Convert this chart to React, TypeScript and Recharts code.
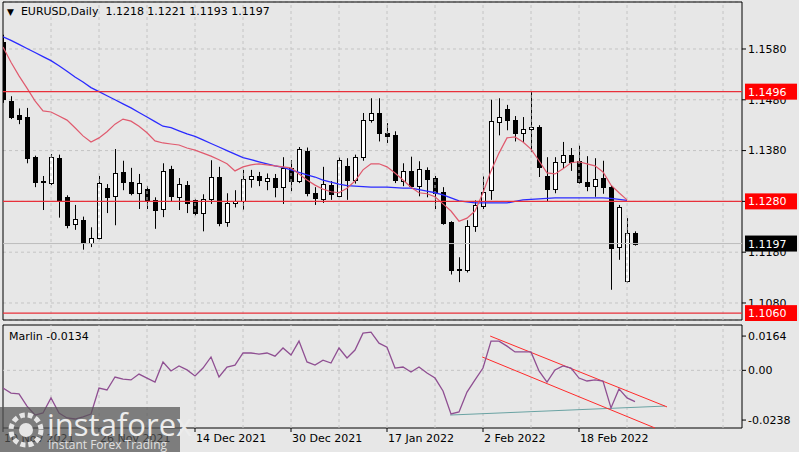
import React from 'react';
import { ComposedChart, Bar, Line, XAxis, YAxis, CartesianGrid, ReferenceLine, ReferenceArea } from 'recharts';

// ---- data ----
const open = [1.1594,1.1478,1.1450,1.1446,1.1367,1.1318,1.1316,1.1366,1.1288,1.1235,1.1244,1.1198,1.1207,1.1307,1.1290,1.1338,1.1319,1.1296,1.1305,1.1283,1.1265,1.1344,1.1289,1.1313,1.1282,1.1257,1.1284,1.1328,1.1239,1.1277,1.1280,1.1325,1.1330,1.1320,1.1326,1.1308,1.1346,1.1320,1.1379,1.1296,1.1285,1.1313,1.1290,1.1350,1.1322,1.1367,1.1440,1.1454,1.1415,1.1411,1.1321,1.1340,1.1310,1.1342,1.1326,1.1298,1.1239,1.1144,1.1145,1.1231,1.1271,1.1302,1.1436,1.1462,1.1440,1.1414,1.1423,1.1426,1.1330,1.1304,1.1357,1.1372,1.1359,1.1318,1.1310,1.1326,1.1309,1.1190,1.1123,1.1218];
const high = [1.1608,1.1487,1.1463,1.1464,1.1370,1.1330,1.1373,1.1372,1.1292,1.1273,1.1250,1.1229,1.1330,1.1314,1.1383,1.1360,1.1346,1.1334,1.1310,1.1288,1.1355,1.1350,1.1326,1.1320,1.1285,1.1294,1.1361,1.1348,1.1296,1.1302,1.1342,1.1342,1.1338,1.1335,1.1334,1.1367,1.1361,1.1387,1.1386,1.1308,1.1348,1.1320,1.1367,1.1365,1.1372,1.1454,1.1483,1.1483,1.1434,1.1418,1.1355,1.1368,1.1359,1.1347,1.1330,1.1308,1.1241,1.1170,1.1243,1.1282,1.1329,1.1480,1.1483,1.1470,1.1448,1.1446,1.1495,1.1430,1.1367,1.1367,1.1397,1.1385,1.1390,1.1369,1.1365,1.1360,1.1312,1.1273,1.1247,1.1221];
const low = [1.1474,1.1442,1.1432,1.1355,1.1308,1.1263,1.1312,1.1248,1.1227,1.1224,1.1185,1.1190,1.1205,1.1257,1.1233,1.1302,1.1292,1.1265,1.1265,1.1226,1.1249,1.1279,1.1263,1.1257,1.1252,1.1221,1.1275,1.1231,1.1230,1.1268,1.1263,1.1307,1.1310,1.1302,1.1288,1.1275,1.1300,1.1316,1.1290,1.1273,1.1277,1.1283,1.1288,1.1283,1.1315,1.1360,1.1435,1.1398,1.1395,1.1316,1.1310,1.1306,1.1290,1.1288,1.1265,1.1234,1.1136,1.1121,1.1140,1.1220,1.1265,1.1283,1.1410,1.1420,1.1398,1.1397,1.1377,1.1328,1.1279,1.1296,1.1345,1.1340,1.1315,1.1300,1.1289,1.1295,1.1106,1.1165,1.1120,1.1193];
const close = [1.1481,1.1446,1.1443,1.1366,1.1318,1.1320,1.1367,1.1281,1.1234,1.1245,1.1198,1.1208,1.1316,1.1289,1.1336,1.1319,1.1297,1.1316,1.1283,1.1263,1.1340,1.1290,1.1314,1.1277,1.1257,1.1285,1.1328,1.1238,1.1277,1.1281,1.1324,1.1330,1.1322,1.1327,1.1308,1.1346,1.1320,1.1383,1.1296,1.1287,1.1314,1.1295,1.1361,1.1322,1.1367,1.1440,1.1454,1.1414,1.1408,1.1322,1.1340,1.1310,1.1344,1.1324,1.1296,1.1238,1.1144,1.1147,1.1232,1.1273,1.1298,1.1438,1.1446,1.1440,1.1415,1.1422,1.1426,1.1348,1.1305,1.1357,1.1371,1.1357,1.1318,1.1310,1.1325,1.1308,1.1188,1.1269,1.1218,1.1197];
const fastMA = [1.1584,1.1554,1.1527,1.1503,1.1478,1.1458,1.1456,1.1448,1.1440,1.1425,1.1409,1.1397,1.1405,1.1417,1.1432,1.1442,1.1438,1.1428,1.1415,1.1399,1.1395,1.1393,1.1391,1.1385,1.1381,1.1375,1.1369,1.1362,1.1354,1.1340,1.1348,1.1352,1.1354,1.1352,1.1350,1.1348,1.1346,1.1334,1.1322,1.1312,1.1304,1.1299,1.1297,1.1306,1.1320,1.1342,1.1354,1.1354,1.1348,1.1336,1.1322,1.1308,1.1297,1.1295,1.1289,1.1275,1.1261,1.1241,1.1247,1.1261,1.1297,1.1340,1.1375,1.1405,1.1407,1.1397,1.1383,1.1360,1.1336,1.1334,1.1344,1.1356,1.1358,1.1354,1.1350,1.1338,1.1312,1.1297,1.1283,null];
const slowMA = [1.1604,1.1597,1.1589,1.1581,1.1573,1.1565,1.1557,1.1547,1.1536,1.1525,1.1515,1.1504,1.1496,1.1488,1.1480,1.1472,1.1464,1.1455,1.1446,1.1437,1.1428,1.1425,1.1419,1.1413,1.1408,1.1401,1.1394,1.1387,1.1380,1.1373,1.1366,1.1362,1.1358,1.1354,1.1350,1.1347,1.1342,1.1337,1.1332,1.1328,1.1322,1.1318,1.1314,1.1311,1.1310,1.1309,1.1308,1.1308,1.1308,1.1307,1.1306,1.1306,1.1303,1.1300,1.1297,1.1293,1.1287,1.1281,1.1279,1.1277,1.1277,1.1277,1.1277,1.1277,1.1280,1.1283,1.1284,1.1285,1.1286,1.1287,1.1287,1.1287,1.1287,1.1287,1.1287,1.1287,1.1286,1.1284,1.1282,null];
const marlin = [-0.0085,-0.0109,-0.0113,-0.0171,-0.0214,-0.0204,-0.0132,-0.0204,-0.0228,-0.0233,-0.0223,-0.0209,-0.0085,-0.0094,-0.0032,-0.0042,-0.0046,-0.0018,-0.0037,-0.0056,0.0040,-0.0003,0.0021,0.0002,-0.0027,0.0011,0.0064,-0.0032,0.0016,0.0025,0.0083,0.0083,0.0078,0.0083,0.0068,0.0107,0.0073,0.0140,0.0040,0.0025,0.0049,0.0035,0.0107,0.0059,0.0097,0.0178,0.0183,0.0130,0.0111,0.0011,0.0016,-0.0008,0.0016,-0.0013,-0.0037,-0.0099,-0.0209,-0.0199,-0.0104,-0.0046,0.0011,0.0140,0.0140,0.0116,0.0088,0.0088,0.0088,-0.0003,-0.0056,0.0002,0.0021,0.0011,-0.0037,-0.0051,-0.0046,-0.0051,-0.0180,-0.0089,-0.0132,-0.0150];

const priceTicks = [1.108, 1.118, 1.128, 1.138, 1.148, 1.158];
const redLevels = [1.1496, 1.128, 1.106];
const lastPrice = 1.1197;
const marlinTicks = [-0.0238, 0, 0.0164];
const dateTickIdx = [0, 12, 24, 36, 48, 60, 72];
const dateTickLabels = ['10 Nov 2021', '26 Nov 2021', '14 Dec 2021', '30 Dec 2021', '17 Jan 2022', '2 Feb 2022', '18 Feb 2022'];
const gridIdx = [6, 12, 18, 24, 30, 36, 42, 48, 54, 60, 66, 72, 78, 84, 90];
const channelUpper = [[60.9, 0.0164], [83.0, -0.0175]];
const channelLower = [[59.9, 0.0064], [81.5, -0.0276]];
const supportLine = [[55.9, -0.0214], [82.75, -0.0171]];

const X_DOMAIN: [number, number] = [0, 92.375];
const P_DOMAIN: [number, number] = [1.10465, 1.16725];
const M_DOMAIN: [number, number] = [-0.0276, 0.0217];

const rows = open.map((o, i) => ({
  i, range: [low[i], high[i]], o, h: high[i], l: low[i], c: close[i], fast: fastMA[i], slow: slowMA[i],
}));
const mRows = marlin.map((v, i) => ({ i, v }));

const FONT = 'DejaVu Sans, Verdana, sans-serif';
const BG = '#e7e7e7';
const GRID = '#c4c4c4';

const Candle = (props: any) => {
  const { x, y, width, height, payload } = props;
  if (x == null || y == null) return null;
  const { o, h, l, c } = payload;
  const X = Math.round(x + width / 2) + 0.5;
  const rng = h - l;
  const py = (p: number) => (rng === 0 ? y : y + ((h - p) / rng) * height);
  const top = py(Math.max(o, c));
  const bot = py(Math.min(o, c));
  const up = c >= o;
  return (
    <g>
      <line x1={X} x2={X} y1={y} y2={y + height} stroke="#000" strokeWidth={1} />
      <rect x={X - 2} y={Math.round(top) + 0.5} width={4} height={Math.max(0.5, Math.round(bot) - Math.round(top))} fill={up ? '#fff' : '#000'} stroke="#000" strokeWidth={1} />
    </g>
  );
};

const Tag = (props: any) => {
  const { viewBox, text, bg } = props;
  if (!viewBox) return null;
  const right = viewBox.x + viewBox.width;
  const y = viewBox.y;
  return (
    <g>
      <rect x={right + 3} y={y - 8} width={52} height={16} fill={bg} />
      <text x={right + 6} y={y} dy="0.36em" fill="#fff" fontSize={11} fontFamily={FONT}>{text}</text>
    </g>
  );
};

const DateTick = (props: any) => {
  const { x, y, payload } = props;
  const k = dateTickIdx.indexOf(payload.value);
  return (
    <text x={x + 1} y={y} dy="0.75em" textAnchor="start" fontSize={11} fontFamily={FONT} fill="#000">
      {k >= 0 ? dateTickLabels[k] : ''}
    </text>
  );
};

const fmtPrice = (v: number) => v.toFixed(4);
const fmtMarlin = (v: number) => (v === 0 ? '0.00' : v.toFixed(4));

export default function App() {
  return (
    <div style={{ position: 'absolute', left: 0, top: 0, width: 799, height: 452, background: BG, overflow: 'hidden', fontFamily: FONT }}>
      <div style={{ position: 'absolute', left: 0, top: 0 }}>
        <ComposedChart width={799} height={321} data={rows} margin={{ top: 2, right: 0, left: 3, bottom: 1 }}>
          <CartesianGrid vertical={false} stroke={GRID} strokeDasharray="3 3" />
          <XAxis dataKey="i" type="number" domain={X_DOMAIN} allowDataOverflow hide />
          <YAxis orientation="right" type="number" domain={P_DOMAIN} allowDataOverflow ticks={priceTicks} tickFormatter={fmtPrice}
            width={57} axisLine={false} tickSize={4} tickMargin={2} tickLine={{ stroke: '#000' }}
            tick={{ fontSize: 11, fill: '#000', fontFamily: FONT }} interval={0} />
          {gridIdx.map((g) => (
            <ReferenceLine key={'g' + g} x={g} stroke={GRID} strokeDasharray="3 3" />
          ))}
          <ReferenceLine y={lastPrice} stroke="#bcbcbc" />
          <Bar dataKey="range" barSize={5} isAnimationActive={false} shape={(p: any) => <Candle {...p} />} />
          <Line dataKey="slow" stroke="#2b2bff" strokeWidth={1.3} dot={false} isAnimationActive={false} type="linear" />
          <Line dataKey="fast" stroke="#e05a6e" strokeWidth={1.2} dot={false} isAnimationActive={false} type="linear" />
          {redLevels.map((lv) => (
            <ReferenceLine key={'r' + lv} y={lv} stroke="#e8303a" strokeWidth={1.2} />
          ))}
          <ReferenceArea x1={X_DOMAIN[0]} x2={X_DOMAIN[1]} y1={P_DOMAIN[0]} y2={P_DOMAIN[1]} fill="none" stroke="#000" strokeWidth={1} fillOpacity={0} />
        </ComposedChart>
      </div>

      {/* price tags drawn above the axis labels, on the same scales */}
      <div style={{ position: 'absolute', left: 0, top: 0, pointerEvents: 'none' }}>
        <ComposedChart width={799} height={321} data={rows} margin={{ top: 2, right: 57, left: 3, bottom: 1 }}>
          <XAxis dataKey="i" type="number" domain={X_DOMAIN} allowDataOverflow hide />
          <YAxis type="number" domain={P_DOMAIN} allowDataOverflow hide />
          {redLevels.map((lv) => (
            <ReferenceLine key={'t' + lv} y={lv} stroke="none" label={<Tag text={lv.toFixed(4)} bg="#ff0000" />} />
          ))}
          <ReferenceLine y={lastPrice} stroke="none" label={<Tag text={lastPrice.toFixed(4)} bg="#000000" />} />
        </ComposedChart>
      </div>

      <div style={{ position: 'absolute', left: 0, top: 322 }}>
        <ComposedChart width={799} height={130} data={mRows} margin={{ top: 3, right: 0, left: 3, bottom: 0 }}>
          <XAxis dataKey="i" type="number" domain={X_DOMAIN} allowDataOverflow ticks={dateTickIdx} interval={0}
            height={24} axisLine={false} tickSize={4} tickMargin={2} tickLine={{ stroke: '#000' }} tick={<DateTick />} />
          <YAxis orientation="right" type="number" domain={M_DOMAIN} allowDataOverflow ticks={marlinTicks} tickFormatter={fmtMarlin}
            width={57} axisLine={false} tickSize={4} tickMargin={2} tickLine={{ stroke: '#000' }}
            tick={{ fontSize: 11, fill: '#000', fontFamily: FONT }} interval={0} />
          {gridIdx.map((g) => (
            <ReferenceLine key={'mg' + g} x={g} stroke={GRID} strokeDasharray="3 3" />
          ))}
          <ReferenceLine y={0} stroke={GRID} strokeDasharray="3 3" />
          <ReferenceLine segment={[{ x: supportLine[0][0], y: supportLine[0][1] }, { x: supportLine[1][0], y: supportLine[1][1] }]} stroke="#6aa3a3" strokeWidth={1} ifOverflow="visible" />
          <ReferenceLine segment={[{ x: channelUpper[0][0], y: channelUpper[0][1] }, { x: channelUpper[1][0], y: channelUpper[1][1] }]} stroke="#ff2a2a" strokeWidth={1} ifOverflow="visible" />
          <ReferenceLine segment={[{ x: channelLower[0][0], y: channelLower[0][1] }, { x: channelLower[1][0], y: channelLower[1][1] }]} stroke="#ff2a2a" strokeWidth={1} ifOverflow="visible" />
          <Line dataKey="v" stroke="#8f4f92" strokeWidth={1.3} dot={false} isAnimationActive={false} type="linear" />
          <ReferenceArea x1={X_DOMAIN[0]} x2={X_DOMAIN[1]} y1={M_DOMAIN[0]} y2={M_DOMAIN[1]} fill="none" stroke="#000" strokeWidth={1} fillOpacity={0} />
        </ComposedChart>
      </div>

      <div style={{ position: 'absolute', left: 7, top: 5, fontSize: 11, color: '#000', whiteSpace: 'pre', lineHeight: '14px' }}>
        <span style={{ fontSize: 9 }}>▼</span>{'  EURUSD,Daily  1.1218 1.1221 1.1193 1.1197'}
      </div>
      <div style={{ position: 'absolute', left: 9, top: 330, fontSize: 11, color: '#000', whiteSpace: 'pre', lineHeight: '14px' }}>
        {'Marlin -0.0134'}
      </div>

      <div style={{ position: 'absolute', left: 0, top: 407, width: 180, height: 45, background: 'rgba(85,85,85,0.72)' }}>
        <svg width={44} height={44} style={{ position: 'absolute', left: 4, top: 1 }}>
          <circle cx={22} cy={22} r={15} fill="none" stroke="#e6e6e6" strokeWidth={5} strokeDasharray="5 3" />
          <circle cx={22} cy={22} r={7} fill="#e6e6e6" />
        </svg>
        <div style={{ position: 'absolute', left: 47, top: 0, fontSize: 31, lineHeight: '34px', color: '#ececec', fontFamily: 'Open Sans, sans-serif', letterSpacing: 0 }}>instaforex</div>
        <div style={{ position: 'absolute', left: 48, top: 31, fontSize: 12, lineHeight: '14px', color: '#e0e0e0', fontFamily: 'Open Sans, sans-serif' }}>Instant Forex Trading</div>
      </div>
    </div>
  );
}
